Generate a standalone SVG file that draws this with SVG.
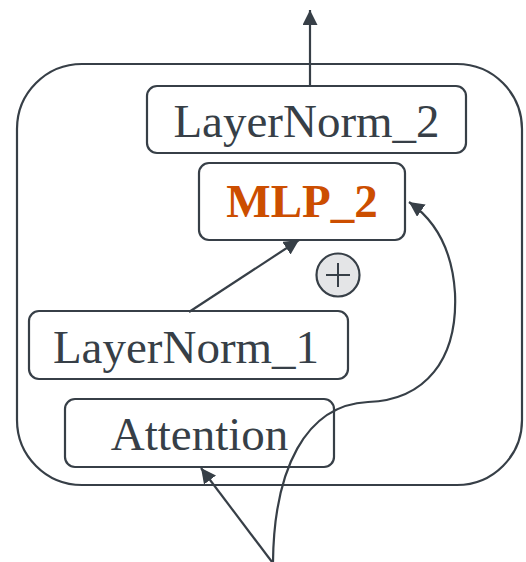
<svg xmlns="http://www.w3.org/2000/svg" width="526" height="562" viewBox="0 0 526 562">
  <defs>
    <marker id="arrow" markerUnits="userSpaceOnUse" markerWidth="16" markerHeight="16" refX="15" refY="7.5" orient="auto">
      <path d="M0,0 L15,7.5 L0,15 z" fill="#373f47"/>
    </marker>
    <style>
      .box { fill: #ffffff; stroke: #373f47; stroke-width: 2.2; }
      .lbl { font-family: "Liberation Serif", "Times New Roman", serif; font-size: 47px; fill: #373f47; text-anchor: middle; }
      .hl { font-weight: bold; fill: #cc4e00; }
      .edge { fill: none; stroke: #373f47; stroke-width: 2.2; }
    </style>
  </defs>
  <rect width="526" height="562" fill="#ffffff"/>

  <!-- block container -->
  <rect x="17" y="64" width="505" height="421" rx="65" ry="65" class="box"/>

  <g id="layernorm2">
    <rect x="147" y="86" width="319" height="67" rx="10" class="box"/>
    <text x="306.5" y="137" class="lbl">LayerNorm_2</text>
  </g>

  <g id="mlp2">
    <rect x="199" y="163" width="206" height="77" rx="10" class="box"/>
    <text x="302" y="217" class="lbl hl">MLP_2</text>
  </g>

  <g id="add">
    <circle cx="338" cy="275" r="21.5" fill="#e4e5e7" stroke="#373f47" stroke-width="2.2"/>
    <path d="M326,275 H350 M338,263 V287" stroke="#373f47" stroke-width="2"/>
  </g>

  <g id="layernorm1">
    <rect x="29" y="311" width="319" height="68" rx="10" class="box"/>
    <text x="186" y="363" class="lbl">LayerNorm_1</text>
  </g>

  <g id="attention">
    <rect x="65" y="399" width="269" height="68" rx="10" class="box"/>
    <text x="199.5" y="450" class="lbl">Attention</text>
  </g>

  <g id="connectors">
    <path d="M310,86 V10" class="edge" marker-end="url(#arrow)"/>
    <path d="M189,312 L299,240" class="edge" marker-end="url(#arrow)"/>
    <path d="M272,562 L201,468" class="edge" marker-end="url(#arrow)"/>
    <path d="M273,562 C274,470 305,405 368,402 C425,400 458,360 455,293 C452,245 432,218 409,202" class="edge" marker-end="url(#arrow)"/>
  </g>
</svg>
